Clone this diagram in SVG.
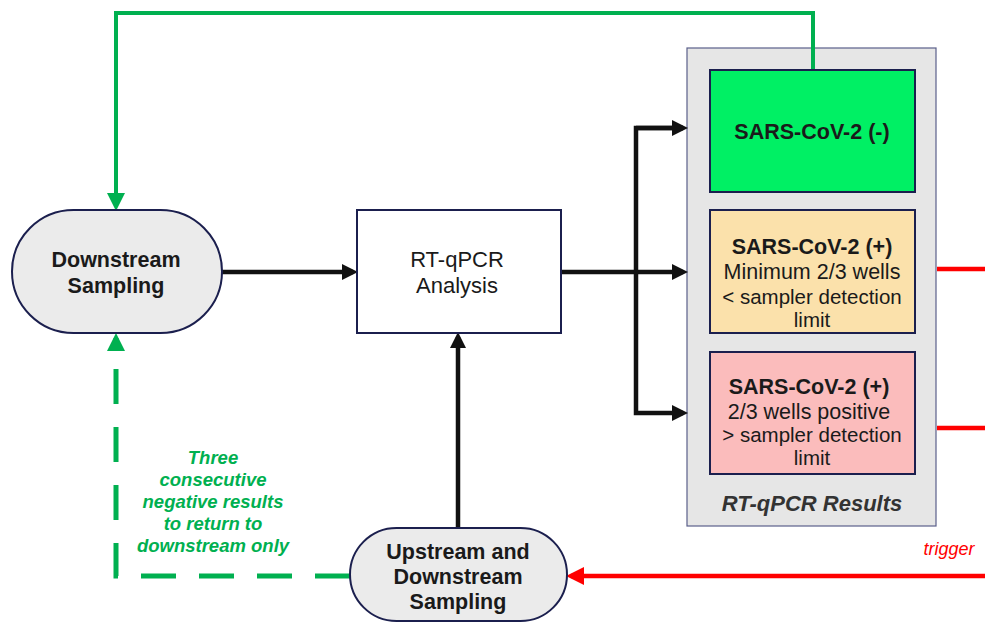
<svg xmlns="http://www.w3.org/2000/svg" width="985" height="623" viewBox="0 0 985 623">
<style>
text{font-family:"Liberation Sans",Arial,sans-serif;fill:#1a1a1a;text-anchor:middle}
.b{font-weight:bold}
.node{stroke:#1b1f4e;stroke-width:2}
.stad{fill:#ebebeb;stroke:#1b1f4e;stroke-width:2}
.blk{stroke:#111;stroke-width:4.5;fill:none}
.grn{stroke:#00b050;stroke-width:4;fill:none}
.dash{stroke:#00b050;stroke-width:5;fill:none;stroke-dasharray:35 23}
.red{stroke:#ff0000;stroke-width:4.5;fill:none}
.note{font-weight:bold;font-style:italic;fill:#00b050;font-size:18.5px}
</style>
<defs>
<marker id="ab" markerUnits="userSpaceOnUse" markerWidth="16" markerHeight="16" refX="11" refY="8" orient="auto"><path d="M0,0 L16,8 L0,16 z" fill="#111"/></marker>
<marker id="ag" markerUnits="userSpaceOnUse" markerWidth="18" markerHeight="18" refX="13" refY="9" orient="auto"><path d="M0,0 L18,9 L0,18 z" fill="#00b050"/></marker>
<marker id="ar" markerUnits="userSpaceOnUse" markerWidth="18" markerHeight="18" refX="13" refY="9" orient="auto"><path d="M0,0 L18,9 L0,18 z" fill="#ff0000"/></marker>
</defs>

<g id="results-container">
<rect x="687" y="48" width="249" height="478" fill="#e6e6e6" stroke="#5a5f8a" stroke-width="1.2"/>
<text x="812" y="511" class="b" style="font-style:italic;font-size:22px;fill:#333">RT-qPCR Results</text>
</g>

<g id="connectors">
<path class="grn" d="M813,70 V13 H116 V206" marker-end="url(#ag)"/>
<path class="dash" d="M350,576 H116 V338" marker-end="url(#ag)"/>
<line class="blk" x1="222" y1="272" x2="353" y2="272" marker-end="url(#ab)"/>
<line class="blk" x1="561" y1="272" x2="683" y2="272" marker-end="url(#ab)"/>
<path class="blk" d="M683,128 H636 V413 H683" marker-end="url(#ab)"/>
<path class="blk" d="M683,128 H636" marker-end="url(#ab)" transform="rotate(180 659.5 128)"/>
<line class="blk" x1="458" y1="528" x2="458" y2="337" marker-end="url(#ab)"/>
<line class="red" x1="937" y1="269" x2="985" y2="269"/>
<line class="red" x1="937" y1="428" x2="985" y2="428"/>
<line class="red" x1="985" y1="576" x2="571" y2="576" marker-end="url(#ar)"/>
<text x="949" y="555" style="font-style:italic;font-size:18px;fill:#ff0000">trigger</text>
</g>

<g id="downstream-sampling">
<rect class="stad" x="12" y="210" width="210" height="123" rx="61.5"/>
<text class="b" x="116" y="267" font-size="21.5">Downstream</text>
<text class="b" x="116" y="293" font-size="21.5">Sampling</text>
</g>

<g id="rtqpcr-analysis">
<rect class="node" x="357" y="210" width="204" height="123" fill="#fff"/>
<text x="457" y="267" font-size="22">RT-qPCR</text>
<text x="457" y="293" font-size="22">Analysis</text>
</g>

<g id="sars-neg">
<rect class="node" x="710" y="70" width="205" height="122" fill="#00f064"/>
<text class="b" x="812" y="139" font-size="21.5">SARS-CoV-2 (-)</text>
</g>

<g id="sars-pos-low">
<rect class="node" x="710" y="210" width="205" height="123" fill="#fbe1ab"/>
<text class="b" x="812" y="254" font-size="21.5">SARS-CoV-2 (+)</text>
<text x="812" y="279" font-size="21.5">Minimum 2/3 wells</text>
<text x="812" y="304" font-size="20.5">&lt; sampler detection</text>
<text x="812" y="327" font-size="20.5">limit</text>
</g>

<g id="sars-pos-high">
<rect class="node" x="710" y="352" width="205" height="122" fill="#fbbcbc"/>
<text class="b" x="809" y="394" font-size="21.5">SARS-CoV-2 (+)</text>
<text x="809" y="419" font-size="21.5">2/3 wells positive</text>
<text x="812" y="442" font-size="20.5">&gt; sampler detection</text>
<text x="812" y="465" font-size="20.5">limit</text>
</g>

<g id="upstream-downstream-sampling">
<rect class="stad" x="350" y="528" width="217" height="93" rx="46.5"/>
<text class="b" x="458" y="559" font-size="21.5">Upstream and</text>
<text class="b" x="458" y="584" font-size="21.5">Downstream</text>
<text class="b" x="458" y="609" font-size="21.5">Sampling</text>
</g>

<g id="note">
<text class="note" x="213" y="464">Three</text>
<text class="note" x="213" y="486">consecutive</text>
<text class="note" x="213" y="508">negative results</text>
<text class="note" x="213" y="530">to return to</text>
<text class="note" x="213" y="552">downstream only</text>
</g>
</svg>
